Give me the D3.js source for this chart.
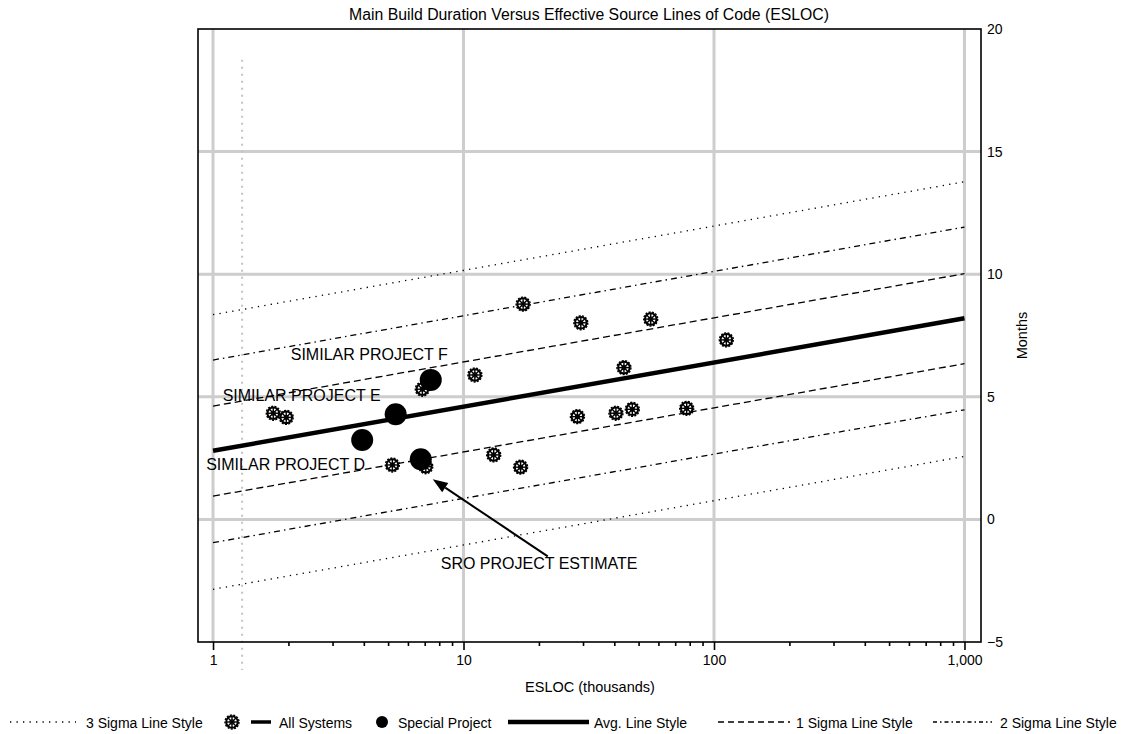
<!DOCTYPE html>
<html>
<head>
<meta charset="utf-8">
<script src="https://cdn.jsdelivr.net/npm/d3@7"></script>
<style>
  body { margin: 0; background: #fff; }
  text { font-family: "Liberation Sans", Arial, Helvetica, sans-serif; fill: #000; }
</style>
</head>
<body>
<svg id="chart" width="1121" height="734"></svg>
<script>
// Historical systems: effective source lines of code (thousands) and main build duration (months)
const systemsEsloc  = [1.74, 1.96, 17.3, 29.4, 55.9, 112, 43.7, 28.5, 40.6, 47.2, 77.8, 16.9, 13.2, 6.85, 5.20, 7.07, 11.1];
const systemsMonths = [4.33, 4.16, 8.78, 8.02, 8.17, 7.32, 6.19, 4.19, 4.33, 4.49, 4.53, 2.13, 2.63, 5.31, 2.22, 2.15, 5.89];

// Projects called out on the chart
const specialNames  = ["SIMILAR PROJECT F", "SIMILAR PROJECT E", "SIMILAR PROJECT D", "SRO PROJECT ESTIMATE"];
const specialEsloc  = [7.40, 5.36, 3.94, 6.75];
const specialMonths = [5.69, 4.29, 3.24, 2.45];

// Trend line and sigma bands, given at both ends of the fitted ESLOC range
const fitEsloc    = [1, 1000];
const avgMonths   = [2.80, 8.20];
const plus1Sigma  = [4.62, 10.02];
const minus1Sigma = [0.95, 6.35];
const plus2Sigma  = [6.50, 11.92];
const minus2Sigma = [-0.95, 4.47];
const plus3Sigma  = [8.35, 13.77];
const minus3Sigma = [-2.85, 2.57];

// Axis ticks
const xTickValues = [1, 10, 100, 1000];
const xTickLabels = ["1", "10", "100", "1,000"];
const yTickValues = [-5, 0, 5, 10, 15, 20];
const yGridValues = [0, 5, 10, 15];

// Light dotted reference at this ESLOC value
const referenceEsloc = 1.306;

const svg = d3.select("#chart");
const plot = { left: 198, right: 981, top: 29, bottom: 642 };

const x = d3.scaleLog().domain([0.871, 1164]).range([plot.left, plot.right]);
const y = d3.scaleLinear().domain([-5, 20]).range([plot.bottom, plot.top]);

// ---- grid ----
const grid = svg.append("g");
grid.selectAll("line.vg").data(xTickValues).join("line")
  .attr("x1", d => x(d)).attr("x2", d => x(d))
  .attr("y1", plot.top).attr("y2", plot.bottom)
  .attr("stroke", "#cdcdcd").attr("stroke-width", 3);
grid.selectAll("line.hg").data(yGridValues).join("line")
  .attr("x1", plot.left).attr("x2", plot.right)
  .attr("y1", d => y(d)).attr("y2", d => y(d))
  .attr("stroke", "#cdcdcd").attr("stroke-width", 3);

// dotted reference line, running past the bottom axis
svg.append("line")
  .attr("x1", x(referenceEsloc)).attr("x2", x(referenceEsloc))
  .attr("y1", y(18.75)).attr("y2", plot.bottom + 28)
  .attr("stroke", "#c4c4c4").attr("stroke-width", 2)
  .attr("stroke-dasharray", "2,5");

// ---- trend and sigma lines ----
const lineGen = d3.line().x(d => x(d[0])).y(d => y(d[1]));
const bands = [
  { vals: plus3Sigma,  dash: "1.3,5.2",   w: 1.3 },
  { vals: minus3Sigma, dash: "1.3,5.2",   w: 1.3 },
  { vals: plus2Sigma,  dash: "6,4,1.5,4", w: 1.3 },
  { vals: minus2Sigma, dash: "6,4,1.5,4", w: 1.3 },
  { vals: plus1Sigma,  dash: "7,4",       w: 1.3 },
  { vals: minus1Sigma, dash: "7,4",       w: 1.3 },
  { vals: avgMonths,   dash: null,        w: 4.5 }
];
const lines = svg.append("g");
bands.forEach(b => {
  lines.append("path")
    .datum(fitEsloc.map((e, i) => [e, b.vals[i]]))
    .attr("d", lineGen)
    .attr("fill", "none")
    .attr("stroke", "#000")
    .attr("stroke-width", b.w)
    .attr("stroke-dasharray", b.dash);
});

// ---- frame and axes ----
svg.append("rect")
  .attr("x", plot.left).attr("y", plot.top)
  .attr("width", plot.right - plot.left).attr("height", plot.bottom - plot.top)
  .attr("fill", "none").attr("stroke", "#000").attr("stroke-width", 1.6);

const minorTicks = [];
[1, 10, 100].forEach(dec => { for (let k = 2; k <= 9; k++) minorTicks.push(dec * k); });

const xAxis = d3.axisBottom(x).tickValues(xTickValues)
  .tickFormat((d, i) => xTickLabels[i]).tickSize(8).tickPadding(5);
const xAxisG = svg.append("g").attr("transform", `translate(0,${plot.bottom})`).call(xAxis);
xAxisG.select(".domain").remove();
xAxisG.selectAll(".tick line").attr("stroke", "#000").attr("stroke-width", 1.6);
xAxisG.selectAll(".tick text").attr("font-size", 14).attr("font-family", null);

const xMinor = d3.axisBottom(x).tickValues(minorTicks).tickFormat("").tickSize(4);
const xMinorG = svg.append("g").attr("transform", `translate(0,${plot.bottom})`).call(xMinor);
xMinorG.select(".domain").remove();
xMinorG.selectAll(".tick line").attr("stroke", "#000").attr("stroke-width", 1.6);

const yAxis = d3.axisRight(y).tickValues(yTickValues).tickSize(0).tickPadding(6);
const yAxisG = svg.append("g").attr("transform", `translate(${plot.right},0)`).call(yAxis);
yAxisG.select(".domain").remove();
yAxisG.selectAll(".tick text").attr("font-size", 14).attr("font-family", null);

// ---- titles ----
svg.append("text")
  .attr("x", 589).attr("y", 20).attr("text-anchor", "middle").attr("font-size", 15.8)
  .text("Main Build Duration Versus Effective Source Lines of Code (ESLOC)");
svg.append("text")
  .attr("x", 590).attr("y", 692).attr("text-anchor", "middle").attr("font-size", 14.5)
  .text("ESLOC (thousands)");
svg.append("text")
  .attr("transform", `translate(1027,${(plot.top + plot.bottom) / 2}) rotate(-90)`)
  .attr("text-anchor", "middle").attr("font-size", 14.5)
  .text("Months");

// ---- markers ----
function systemMarker(g) {
  g.append("circle").attr("r", 7).attr("fill", "none").attr("stroke", "#000")
    .attr("stroke-width", 1.4).attr("stroke-dasharray", "2,1.4");
  g.append("circle").attr("r", 5.8).attr("fill", "#fff").attr("stroke", "#000").attr("stroke-width", 2);
  [0, 45, 90, 135].forEach(a => {
    g.append("line").attr("x1", -5.5).attr("x2", 5.5).attr("y1", 0).attr("y2", 0)
      .attr("transform", `rotate(${a})`)
      .attr("stroke", "#000").attr("stroke-width", 1.4);
  });
  g.append("circle").attr("r", 2.2).attr("fill", "none").attr("stroke", "#000").attr("stroke-width", 1);
}

const systemsData = systemsEsloc.map((e, i) => ({ e, m: systemsMonths[i] }));
svg.append("g").selectAll("g").data(systemsData).join("g")
  .attr("transform", d => `translate(${x(d.e)},${y(d.m)})`)
  .each(function () { systemMarker(d3.select(this)); });

const specialData = specialNames.map((n, i) => ({ n, e: specialEsloc[i], m: specialMonths[i] }));
svg.append("g").selectAll("circle").data(specialData).join("circle")
  .attr("cx", d => x(d.e)).attr("cy", d => y(d.m)).attr("r", 11)
  .attr("fill", "#000");

// ---- annotations ----
const labelOffsets = [[-140, -20], [-173, -13], [-156, 30], [20, 110]];
svg.append("g").selectAll("text").data(specialData).join("text")
  .attr("x", (d, i) => x(d.e) + labelOffsets[i][0])
  .attr("y", (d, i) => y(d.m) + labelOffsets[i][1])
  .attr("font-size", 16)
  .text(d => d.n);

// arrow from the estimate label up to its point
const est = specialData[3];
const tip = [x(est.e) + 12, y(est.m) + 20];
const tail = [x(est.e) + 127, y(est.m) + 97];
const ang = Math.atan2(tail[1] - tip[1], tail[0] - tip[0]);
const headLen = 15, headHalf = 5.5;
const base = [tip[0] + headLen * Math.cos(ang), tip[1] + headLen * Math.sin(ang)];
svg.append("line")
  .attr("x1", tail[0]).attr("y1", tail[1]).attr("x2", base[0]).attr("y2", base[1])
  .attr("stroke", "#000").attr("stroke-width", 2);
svg.append("path")
  .attr("d", d3.line()([
    tip,
    [base[0] + headHalf * Math.sin(ang), base[1] - headHalf * Math.cos(ang)],
    [base[0] - headHalf * Math.sin(ang), base[1] + headHalf * Math.cos(ang)]
  ]) + "Z")
  .attr("fill", "#000");

// ---- legend ----
const legend = svg.append("g").attr("font-size", 14);
const ly = 722, lt = 728;
function legendLine(x1, x2, w, dash) {
  legend.append("line").attr("x1", x1).attr("x2", x2).attr("y1", ly).attr("y2", ly)
    .attr("stroke", "#000").attr("stroke-width", w).attr("stroke-dasharray", dash);
}
function legendText(xp, t) {
  legend.append("text").attr("x", xp).attr("y", lt).text(t);
}
legendLine(10, 76, 1.3, "1.3,5.2");
legendText(86, "3 Sigma Line Style");

systemMarker(legend.append("g").attr("transform", `translate(232,${ly})`));
legendLine(251, 271, 3.5, null);
legendText(279, "All Systems");

legend.append("circle").attr("cx", 382).attr("cy", ly).attr("r", 6).attr("fill", "#000");
legendText(398, "Special Project");

legendLine(508, 589, 4.5, null);
legendText(594, "Avg. Line Style");

legendLine(718, 790, 1.3, "6,4");
legendText(796, "1 Sigma Line Style");

legendLine(933, 992, 1.3, "4,3,1.5,3");
legendText(1000, "2 Sigma Line Style");
</script>
</body>
</html>
